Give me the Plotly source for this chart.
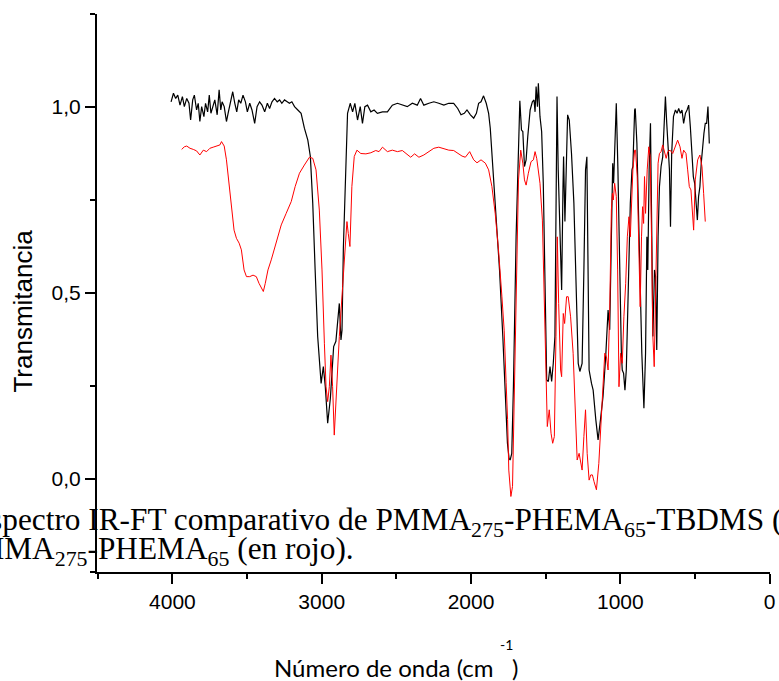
import plotly.graph_objects as go

# Black spectrum: PMMA275-PHEMA65-TBDMS  (wavenumber cm-1, transmittance)
black_wn = [4009, 3993, 3978, 3964, 3949, 3933, 3920, 3904, 3889, 3878, 3864, 3853, 3838, 3827, 3816,
            3804, 3789, 3778, 3764, 3753, 3742, 3727, 3716, 3700, 3687, 3676, 3667, 3653, 3638, 3627,
            3609, 3596, 3582, 3569, 3556, 3542, 3527, 3511, 3498, 3482, 3467, 3449, 3433, 3416, 3400,
            3382, 3364, 3349, 3333, 3316, 3298, 3282, 3267, 3249, 3231, 3216, 3200, 3182, 3160, 3138,
            3116, 3093, 3076, 3060, 3044, 3027, 3004, 2989, 2976, 2960, 2942, 2920, 2905, 2893, 2882,
            2871, 2864, 2855, 2844, 2827, 2809, 2793, 2778, 2760, 2742, 2727, 2711, 2693, 2671, 2649,
            2627, 2593, 2560, 2527, 2493, 2460, 2427, 2393, 2360, 2338, 2316, 2282, 2249, 2216, 2182,
            2149, 2116, 2089, 2067, 2045, 2027, 2004, 1982, 1964, 1949, 1933, 1916, 1898, 1882, 1871,
            1853, 1831, 1809, 1787, 1769, 1756, 1745, 1738, 1727, 1716, 1698, 1682, 1673, 1662, 1653,
            1642, 1631, 1620, 1604, 1589, 1578, 1571, 1564, 1555, 1549, 1538, 1527, 1516, 1504, 1493,
            1482, 1471, 1460, 1449, 1438, 1431, 1424, 1416, 1404, 1393, 1384, 1380, 1371, 1364, 1353,
            1342, 1327, 1311, 1298, 1282, 1271, 1256, 1244, 1233, 1224, 1218, 1209, 1193, 1182, 1164,
            1149, 1133, 1116, 1098, 1082, 1071, 1058, 1051, 1045, 1036, 1027, 1016, 1004, 993, 987,
            978, 969, 960, 949, 933, 922, 916, 904, 900, 889, 878, 867, 856, 842, 831,
            822, 816, 807, 798, 789, 782, 771, 764, 756, 747, 738, 727, 716, 704, 698,
            689, 680, 671, 664, 656, 644, 631, 620, 609, 598, 587, 576, 564, 553, 542,
            531, 520, 511, 502, 493, 484, 476, 467, 458, 449, 440, 431, 422, 413, 404]
black_t = [1.014, 1.037, 1.023, 1.032, 1.005, 1.028, 1.001, 1.023, 1.010, 0.965, 1.019, 1.032, 0.992, 1.010, 0.961,
           1.001, 0.974, 1.010, 0.987, 1.032, 0.983, 1.001, 1.019, 0.979, 1.046, 0.992, 1.014, 1.001, 0.961, 0.983,
           1.023, 1.041, 1.010, 0.987, 1.019, 1.010, 1.032, 1.014, 0.987, 1.010, 0.992, 0.956, 1.001, 1.014, 1.005,
           0.987, 1.010, 0.996, 1.014, 1.023, 1.014, 1.019, 1.010, 1.019, 1.014, 1.010, 1.014, 1.001, 0.992, 0.983,
           0.943, 0.911, 0.867, 0.741, 0.562, 0.383, 0.257, 0.302, 0.248, 0.150, 0.217, 0.356, 0.370, 0.430, 0.472,
           0.374, 0.400, 0.620, 0.786, 0.983, 1.010, 0.987, 1.010, 0.965, 1.001, 0.956, 1.001, 1.005, 0.987, 0.992,
           0.983, 0.987, 0.987, 1.005, 1.010, 1.005, 1.001, 1.010, 1.005, 1.023, 1.005, 1.010, 1.014, 1.010, 1.005,
           1.010, 1.010, 0.996, 0.979, 0.983, 0.992, 0.979, 0.970, 0.983, 1.010, 1.014, 1.030, 1.010, 0.983, 0.943,
           0.831, 0.696, 0.562, 0.383, 0.203, 0.096, 0.055, 0.051, 0.069, 0.248, 0.651, 0.920, 1.017, 0.938, 0.934,
           0.840, 0.858, 0.920, 0.992, 1.014, 1.019, 0.987, 1.055, 1.001, 1.064, 0.974, 0.934, 0.795, 0.544, 0.266,
           0.262, 0.302, 0.262, 0.311, 0.383, 0.696, 1.028, 0.831, 0.634, 0.508, 0.786, 0.867, 0.692, 0.831, 0.979,
           0.965, 0.875, 0.741, 0.517, 0.311, 0.289, 0.311, 0.562, 0.831, 0.866, 0.651, 0.293, 0.257, 0.239, 0.159,
           0.105, 0.159, 0.221, 0.329, 0.454, 0.401, 0.696, 0.849, 0.795, 0.920, 1.010, 0.831, 0.517, 0.338, 0.293,
           0.284, 0.239, 0.293, 0.472, 0.741, 0.831, 0.840, 0.992, 0.996, 0.902, 0.696, 0.517, 0.338, 0.190, 0.338,
           0.651, 0.562, 0.831, 0.956, 0.651, 0.383, 0.562, 0.544, 0.347, 0.651, 0.786, 0.840, 0.866, 0.992, 1.028,
           0.956, 0.902, 0.831, 0.678, 0.875, 0.974, 0.992, 0.983, 0.996, 0.983, 0.992, 0.956, 0.983, 0.992, 1.005,
           0.947, 0.884, 0.813, 0.795, 0.741, 0.696, 0.759, 0.786, 0.849, 0.902, 0.929, 0.956, 0.956, 1.001, 0.902]

# Red spectrum: PMMA275-PHEMA65
red_wn = [3938, 3920, 3904, 3882, 3860, 3838, 3816, 3793, 3771, 3749, 3727, 3704, 3682, 3671, 3653,
          3638, 3622, 3604, 3587, 3571, 3553, 3538, 3520, 3504, 3482, 3460, 3438, 3420, 3404, 3391,
          3378, 3360, 3338, 3304, 3271, 3238, 3204, 3178, 3149, 3116, 3082, 3060, 3038, 3016, 2998,
          2982, 2971, 2960, 2949, 2938, 2927, 2916, 2904, 2882, 2860, 2842, 2831, 2822, 2811, 2798,
          2782, 2764, 2738, 2704, 2671, 2638, 2616, 2593, 2560, 2527, 2493, 2460, 2427, 2404, 2378,
          2349, 2316, 2282, 2249, 2216, 2182, 2149, 2116, 2089, 2060, 2038, 2009, 1982, 1960, 1933,
          1904, 1882, 1860, 1838, 1816, 1793, 1778, 1765, 1755, 1747, 1733, 1722, 1711, 1698, 1682,
          1667, 1653, 1642, 1631, 1616, 1598, 1582, 1571, 1560, 1549, 1538, 1522, 1511, 1500, 1489,
          1476, 1464, 1453, 1442, 1431, 1422, 1413, 1400, 1393, 1382, 1373, 1360, 1349, 1333, 1316,
          1302, 1289, 1276, 1264, 1256, 1244, 1233, 1222, 1209, 1198, 1187, 1176, 1160, 1144, 1131,
          1116, 1104, 1093, 1082, 1071, 1060, 1053, 1047, 1038, 1027, 1018, 1009, 998, 987, 976,
          964, 953, 942, 933, 924, 916, 904, 898, 887, 876, 867, 858, 851, 844, 838,
          831, 820, 809, 800, 791, 782, 773, 764, 756, 747, 738, 727, 716, 704, 693,
          682, 667, 649, 631, 616, 600, 587, 576, 560, 549, 538, 527, 516, 509, 498,
          482, 467, 453, 442, 431]
red_t = [0.886, 0.893, 0.895, 0.889, 0.886, 0.882, 0.871, 0.884, 0.880, 0.889, 0.892, 0.895, 0.898, 0.907, 0.895,
         0.858, 0.795, 0.723, 0.669, 0.647, 0.634, 0.616, 0.562, 0.544, 0.544, 0.548, 0.544, 0.526, 0.513, 0.504,
         0.526, 0.562, 0.589, 0.634, 0.683, 0.714, 0.746, 0.786, 0.822, 0.844, 0.865, 0.862, 0.831, 0.723, 0.562,
         0.365, 0.248, 0.208, 0.248, 0.333, 0.248, 0.118, 0.221, 0.383, 0.517, 0.634, 0.692, 0.660, 0.625, 0.786,
         0.867, 0.884, 0.875, 0.874, 0.877, 0.883, 0.880, 0.892, 0.880, 0.884, 0.880, 0.883, 0.871, 0.865, 0.874,
         0.865, 0.871, 0.880, 0.889, 0.892, 0.888, 0.884, 0.883, 0.875, 0.868, 0.865, 0.880, 0.858, 0.850, 0.858,
         0.849, 0.831, 0.786, 0.714, 0.616, 0.490, 0.400, 0.260, 0.160, 0.024, -0.047, -0.020, 0.203, 0.562, 0.804,
         0.884, 0.849, 0.804, 0.790, 0.822, 0.853, 0.858, 0.880, 0.862, 0.831, 0.795, 0.696, 0.517, 0.293, 0.141,
         0.186, 0.123, 0.096, 0.114, 0.383, 0.651, 0.472, 0.293, 0.275, 0.445, 0.418, 0.490, 0.490, 0.436, 0.338,
         0.203, 0.051, 0.069, 0.042, 0.024, 0.114, 0.186, 0.069, -0.003, 0.011, 0.011, -0.007, -0.029, 0.042, 0.132,
         0.239, 0.338, 0.329, 0.293, 0.454, 0.723, 0.768, 0.750, 0.795, 0.759, 0.562, 0.248, 0.338, 0.311, 0.436,
         0.526, 0.651, 0.705, 0.651, 0.759, 0.831, 0.884, 0.884, 0.813, 0.651, 0.463, 0.651, 0.732, 0.687, 0.813,
         0.714, 0.831, 0.893, 0.867, 0.651, 0.383, 0.302, 0.472, 0.714, 0.849, 0.875, 0.880, 0.898, 0.880, 0.862,
         0.880, 0.884, 0.875, 0.898, 0.911, 0.893, 0.862, 0.884, 0.875, 0.831, 0.786, 0.777, 0.696, 0.669, 0.804,
         0.858, 0.871, 0.840, 0.768, 0.692]

x_ticks = [4000, 3000, 2000, 1000, 0]
y_ticks = [0.0, 0.5, 1.0]

fig = go.Figure()
fig.add_trace(go.Scatter(x=black_wn, y=black_t, mode="lines",
                         line=dict(color="black", width=1.2), showlegend=False))
fig.add_trace(go.Scatter(x=red_wn, y=red_t, mode="lines",
                         line=dict(color="red", width=1.0), showlegend=False))

axis_common = dict(showline=True, linewidth=2, linecolor="black", mirror=False,
                   ticks="outside", ticklen=10, tickwidth=2, tickcolor="black",
                   showgrid=False, zeroline=False, ticklabeloverflow="allow",
                   tickfont=dict(family="Liberation Sans", size=21, color="black"))

fig.update_xaxes(range=[4505, -2.5], tickvals=x_ticks, tickformat="d",
                 minor=dict(dtick=500, tick0=0, ticklen=5, tickwidth=2, ticks="outside",
                            tickcolor="black", showgrid=False),
                 **axis_common)
fig.update_yaxes(range=[-0.25, 1.25], tickvals=y_ticks, tickformat=".1f",
                 minor=dict(dtick=0.25, tick0=0, ticklen=5, tickwidth=2, ticks="outside",
                            tickcolor="black", showgrid=False),
                 **axis_common)

serif = dict(family="Liberation Serif", size=31.3, color="black")
annotations = [
    dict(text="Transmitancia", x=-0.1106, y=0.4677, xref="paper", yref="paper",
         textangle=-90, showarrow=False, xanchor="center", yanchor="middle",
         font=dict(family="Liberation Sans", size=26, color="black")),
    dict(text="Número de onda (cm\u00a0\u00a0\u00a0)", x=0.444, y=-0.172, xref="paper", yref="paper",
         showarrow=False, xanchor="center", yanchor="middle",
         font=dict(family="Lato", size=24, color="black")),
    dict(text="-1", x=0.608, y=-0.1308, xref="paper", yref="paper",
         showarrow=False, xanchor="center", yanchor="middle",
         font=dict(family="Lato", size=14, color="black")),
    dict(text="Espectro IR-FT comparativo de PMMA<sub>275</sub>-PHEMA<sub>65</sub>-TBDMS (en negro) y",
         x=-0.1903, y=0.0896, xref="paper", yref="paper", showarrow=False,
         xanchor="left", yanchor="middle", font=serif),
    dict(text="PMMA<sub>275</sub>-PHEMA<sub>65</sub> (en rojo).",
         x=-0.2085, y=0.0376, xref="paper", yref="paper", showarrow=False,
         xanchor="left", yanchor="middle", font=serif),
]

fig.update_layout(width=779, height=681, autosize=False,
                  margin=dict(l=97, r=4, t=14, b=109),
                  paper_bgcolor="white", plot_bgcolor="white",
                  separators=",.", annotations=annotations, showlegend=False)

fig.write_html("out.html")
